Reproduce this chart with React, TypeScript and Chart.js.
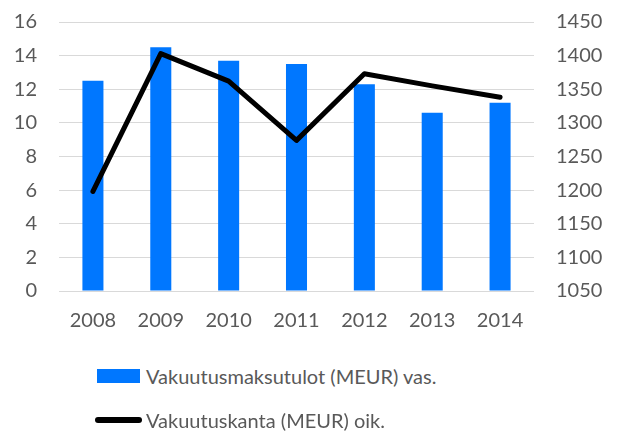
import React, { useEffect, useRef } from "react";
import { Chart, registerables } from "chart.js";

Chart.register(...registerables);

const years = ["2008", "2009", "2010", "2011", "2012", "2013", "2014"];
const premiums = [12.5, 14.5, 13.7, 13.5, 12.3, 10.6, 11.2];
const portfolio = [1198, 1403, 1362, 1274, 1373, 1355, 1338];
const barLabel = "Vakuutusmaksutulot (MEUR) vas.";
const lineLabel = "Vakuutuskanta (MEUR) oik.";

const FONT = "Lato, 'Open Sans', sans-serif";
const TEXT = "#595959";
const BLUE = "#0077FF";

export default function App() {
  const ref = useRef<HTMLCanvasElement | null>(null);
  useEffect(() => {
    document.body.style.margin = "0";
    const ctx = ref.current!;
    const chart = new Chart(ctx, {
      type: "bar",
      data: {
        labels: years,
        datasets: [
          {
            type: "line",
            label: lineLabel,
            data: portfolio,
            yAxisID: "y1",
            borderColor: "#000000",
            borderWidth: 5,
            borderCapStyle: "round",
            borderJoinStyle: "round",
            pointRadius: 0,
            tension: 0,
            order: 0,
          } as any,
          {
            type: "bar",
            label: barLabel,
            data: premiums,
            yAxisID: "y",
            backgroundColor: BLUE,
            barPercentage: 0.31,
            categoryPercentage: 1,
            order: 1,
          },
        ],
      },
      options: {
        animation: false,
        responsive: false,
        maintainAspectRatio: false,
        layout: { padding: { top: 22, left: 0, right: 0, bottom: 0 } },
        plugins: { legend: { display: false }, tooltip: { enabled: false } },
        scales: {
          x: {
            grid: { display: false, drawTicks: false },
            border: { display: false },
            ticks: { color: TEXT, font: { family: FONT, size: 20 }, padding: 18 },
            afterFit: (s: any) => { s.height = 54; s.paddingLeft = 0; s.paddingRight = 0; },
          },
          y: {
            position: "left",
            min: 0,
            max: 16,
            ticks: { stepSize: 2, color: TEXT, font: { family: FONT, size: 20 }, padding: 22, callback: (v: any) => String(v) },
            grid: { color: "#d9d9d9", lineWidth: 1, drawTicks: false },
            border: { display: false },
            afterFit: (s: any) => { s.width = 59; s.paddingTop = 0; s.paddingBottom = 0; },
          },
          y1: {
            position: "right",
            min: 1050,
            max: 1450,
            ticks: { stepSize: 50, color: TEXT, font: { family: FONT, size: 20 }, padding: 22, callback: (v: any) => String(v) },
            grid: { display: false, drawTicks: false },
            border: { display: false },
            afterFit: (s: any) => { s.width = 88; s.paddingTop = 0; s.paddingBottom = 0; },
          },
        },
      },
    });
    return () => chart.destroy();
  }, []);

  return (
    <div style={{ position: "fixed", left: 0, top: 0, width: 622, height: 432, background: "#fff", fontFamily: FONT }}>
      <canvas ref={ref} width={622} height={345} style={{ display: "block", width: 622, height: 345 }} />
      <div style={{ position: "absolute", left: 97, top: 362, height: 28, display: "flex", alignItems: "center" }}>
        <div style={{ width: 43, height: 14, background: BLUE, marginRight: 6 }} />
        <span style={{ fontSize: 20, color: TEXT, whiteSpace: "nowrap" }}>{barLabel}</span>
      </div>
      <div style={{ position: "absolute", left: 95, top: 406, height: 28, display: "flex", alignItems: "center" }}>
        <div style={{ width: 47, height: 6, background: "#000", borderRadius: 3, marginRight: 4 }} />
        <span style={{ fontSize: 20, color: TEXT, whiteSpace: "nowrap" }}>{lineLabel}</span>
      </div>
    </div>
  );
}
